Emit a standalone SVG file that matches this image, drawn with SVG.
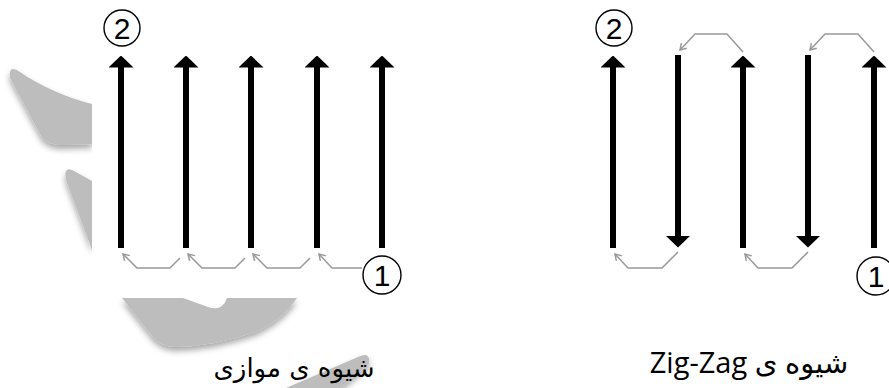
<svg xmlns="http://www.w3.org/2000/svg" width="889" height="388" viewBox="0 0 889 388">
  <defs>
    <marker id="head" markerUnits="userSpaceOnUse" viewBox="0 0 12 25" markerWidth="12" markerHeight="25" refX="0.5" refY="12.5" orient="auto">
      <path d="M0,0 L12,12.5 L0,25 Z" fill="#000"/>
    </marker>
    <marker id="thin" markerUnits="userSpaceOnUse" viewBox="0 0 9 9" markerWidth="9" markerHeight="9" refX="7" refY="4.5" orient="auto">
      <path d="M1,0.8 L7,4.5 L1,8.2" fill="none" stroke="#999" stroke-width="1.5"/>
    </marker>
    <filter id="shadow" x="-20%" y="-20%" width="140%" height="160%">
      <feDropShadow dx="0" dy="4" stdDeviation="3" flood-color="#000" flood-opacity="0.35"/>
    </filter>
  </defs>
  <style>
    .bar { stroke: #000; stroke-width: 6; fill: none; }
    .conn { stroke: #999; stroke-width: 1.5; fill: none; stroke-linejoin: round; }
    .ring { fill: #fff; stroke: #000; stroke-width: 1.4; }
    .num { font-family: "Liberation Sans", Arial, sans-serif; font-size: 30px; fill: #000; text-anchor: middle; }
    .wm { fill: #bdbdbd; filter: url(#shadow); }
  </style>
  <rect width="889" height="388" fill="#fff"/>

  <g id="watermark">
    <path class="wm" d="M92,104 C68,98 40,86 20,72 Q8,64 10,78 L40,134 Q46,145 62,145 L92,144 Z"/>
    <path class="wm" d="M92,181 L74,171 Q63,165 66,180 L92,250 Z"/>
    <path class="wm" d="M122,298 L297,298 Q282,320 255,332 Q215,346 175,347 Q160,346 152,336 Z"/>
    <path class="wm" d="M286,388 L358,357 Q371,351 369,364 L340,388 Z"/>
    <path d="M92,0 H420 V298 H227 Q222,312 208,307 L183,298 H92 Z" fill="#fff"/>
  </g>

  <g id="connectors">
    <path class="conn" d="M180,258 L170,268 L137,268 L123,254" marker-end="url(#thin)"/>
    <path class="conn" d="M245,258 L235,268 L202,268 L188,254" marker-end="url(#thin)"/>
    <path class="conn" d="M310,258 L300,268 L267,268 L253,254" marker-end="url(#thin)"/>
    <path class="conn" d="M362,268 L332,268 L319,254" marker-end="url(#thin)"/>
    <path class="conn" d="M743,52 L727,34 L695,34 L680,50" marker-end="url(#thin)"/>
    <path class="conn" d="M874,52 L858,34 L825,34 L810,50" marker-end="url(#thin)"/>
    <path class="conn" d="M678,252 L662,268 L628,268 L615,254" marker-end="url(#thin)"/>
    <path class="conn" d="M808,252 L792,268 L758,268 L745,254" marker-end="url(#thin)"/>
  </g>

  <g id="parallel">
    <g id="p-arrow-1"><line class="bar" x1="121" y1="248" x2="121" y2="67" marker-end="url(#head)"/></g>
    <g id="p-arrow-2"><line class="bar" x1="186" y1="248" x2="186" y2="67" marker-end="url(#head)"/></g>
    <g id="p-arrow-3"><line class="bar" x1="251" y1="248" x2="251" y2="67" marker-end="url(#head)"/></g>
    <g id="p-arrow-4"><line class="bar" x1="317" y1="248" x2="317" y2="67" marker-end="url(#head)"/></g>
    <g id="p-arrow-5"><line class="bar" x1="382" y1="248" x2="382" y2="67" marker-end="url(#head)"/></g>
    <g id="p-start"><circle class="ring" cx="382" cy="275" r="19"/><text class="num" x="382" y="286">1</text></g>
    <g id="p-end"><circle class="ring" cx="122" cy="28" r="18"/><text class="num" x="122" y="39">2</text></g>
    <g id="p-label"><text x="294" y="377" text-anchor="middle" direction="rtl" font-family="'DejaVu Sans', sans-serif" font-size="26">شیوه ی موازی</text></g>
  </g>

  <g id="zigzag">
    <g id="z-arrow-1"><line class="bar" x1="613" y1="248" x2="613" y2="67" marker-end="url(#head)"/></g>
    <g id="z-arrow-2"><line class="bar" x1="678" y1="55" x2="678" y2="236" marker-end="url(#head)"/></g>
    <g id="z-arrow-3"><line class="bar" x1="743" y1="248" x2="743" y2="67" marker-end="url(#head)"/></g>
    <g id="z-arrow-4"><line class="bar" x1="808" y1="55" x2="808" y2="236" marker-end="url(#head)"/></g>
    <g id="z-arrow-5"><line class="bar" x1="874" y1="248" x2="874" y2="67" marker-end="url(#head)"/></g>
    <g id="z-start"><circle class="ring" cx="876" cy="276" r="19"/><text class="num" x="876" y="287">1</text></g>
    <g id="z-end"><circle class="ring" cx="614" cy="28" r="18"/><text class="num" x="614" y="39">2</text></g>
    <g id="z-label"><text x="749" y="373" text-anchor="middle" direction="rtl" font-family="'Open Sans', 'DejaVu Sans', sans-serif" font-size="29">شیوه ی Zig-Zag</text></g>
  </g>
</svg>
